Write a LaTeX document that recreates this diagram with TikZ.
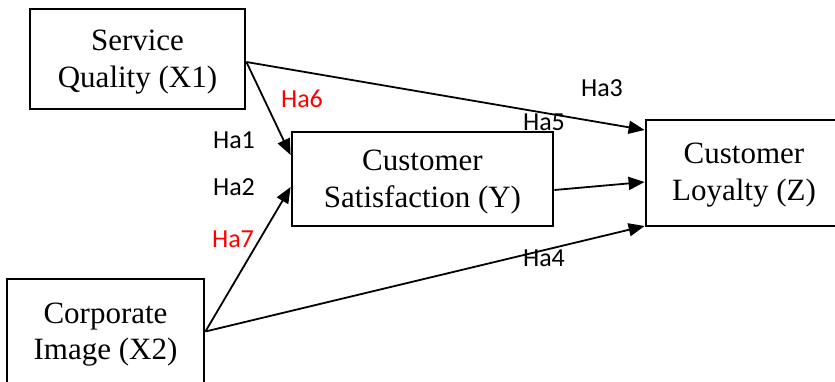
\documentclass[tikz,border=0pt]{standalone}
\usepackage{fontspec}
\setmainfont{Liberation Serif}
\newfontfamily\labfont{Carlito}
\usetikzlibrary{arrows.meta}
\begin{document}
\begin{tikzpicture}[x=1pt,y=-1pt,
  box/.style={draw,line width=2.8pt,rectangle,inner sep=0pt},
  boxtext/.style={inner sep=0pt,align=center,font=\fontsize{31}{36.5}\selectfont},
  conn/.style={line width=1.8pt,-{Triangle[length=16pt,width=13pt]}},
  hlab/.style={inner sep=0pt,font=\labfont\fontsize{26}{30}\selectfont},
  hred/.style={hlab,text={rgb,255:red,255;green,0;blue,0}}]
\clip (0,0) rectangle (835,382);
\node[box,minimum width=215pt,minimum height=100pt] (sq) at (137.5,59) {};
\node[box,minimum width=261pt,minimum height=94pt] (cs) at (422.5,179) {};
\node[box,minimum width=196pt,minimum height=106pt] (cl) at (744,173) {};
\node[box,minimum width=197pt,minimum height=105pt] (ci) at (105.5,331.5) {};
\node[boxtext] (sqt) at ([yshift=-3pt]sq.center) {Service\\Quality (X1)};
\node[boxtext] (cst) at ([yshift=-3pt]cs.center) {Customer\\Satisfaction (Y)};
\node[boxtext] (clt) at ([yshift=-2pt]cl.center) {Customer\\Loyalty (Z)};
\node[boxtext] (cit) at ([yshift=-3pt]ci.center) {Corporate\\Image (X2)};
\draw[conn] ([yshift=-3pt]sq.east) -- ([yshift=24pt]cs.west);
\draw[conn] ([yshift=-3pt]sq.east) -- ([yshift=43pt]cl.west);
\draw[conn] ([yshift=-11pt]cs.east) -- ([yshift=-9pt]cl.west);
\draw[conn] (ci.east) -- ([yshift=-8pt]cs.west);
\draw[conn] (ci.east) -- ([yshift=-53pt]cl.west);
\node[hred] (h6) at (302,99) {Ha6};
\node[hlab] (h1) at (234,140) {Ha1};
\node[hlab] (h2) at (234,187) {Ha2};
\node[hred] (h7) at (233,239) {Ha7};
\node[hlab] (h3) at (602,88) {Ha3};
\node[hlab] (h5) at (544,122) {Ha5};
\node[hlab] (h4) at (544,258) {Ha4};
\end{tikzpicture}
\end{document}
